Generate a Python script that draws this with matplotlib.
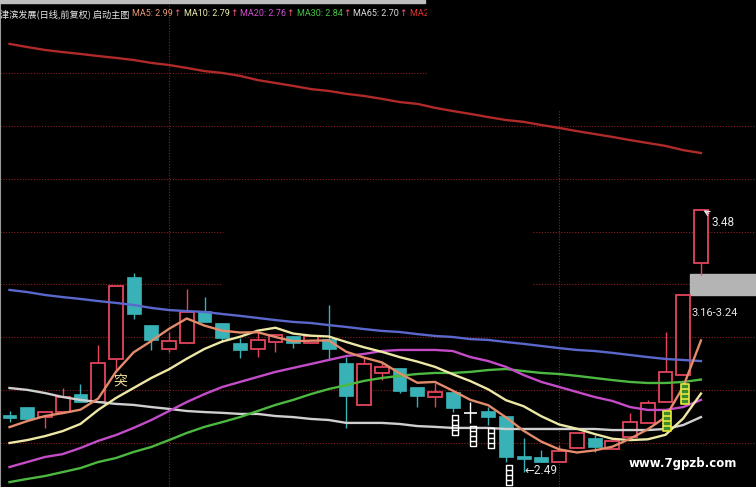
import matplotlib
matplotlib.use("Agg")
import matplotlib.pyplot as plt
from matplotlib.patches import Rectangle
from matplotlib.path import Path

# daily bars, oldest first
opens = [2.706, 2.736, 2.698, 2.717, 2.785, 2.755, 2.918, 3.228, 3.046, 2.956,
         2.978, 3.099, 3.054, 2.978, 2.956, 2.982, 3.005, 2.978, 2.993, 2.903,
         2.744, 2.865, 2.884, 2.812, 2.774, 2.793, 2.714, 2.721, 2.702, 2.551,
         2.547, 2.528, 2.581, 2.619, 2.577, 2.623, 2.676, 2.755, 2.857, 3.281]
highs = [2.720, 2.736, 2.720, 2.808, 2.823, 2.971, 3.194, 3.243, 3.046, 3.020,
         3.183, 3.152, 3.054, 2.997, 3.020, 3.009, 3.005, 3.005, 3.122, 2.925,
         2.925, 2.906, 2.884, 2.812, 2.827, 2.793, 2.755, 2.736, 2.702, 2.620,
         2.574, 2.592, 2.638, 2.630, 2.608, 2.714, 2.763, 3.020, 3.160, 3.480]
lows = [2.680, 2.691, 2.657, 2.717, 2.755, 2.755, 2.876, 3.069, 2.952, 2.944,
        2.978, 3.058, 2.982, 2.922, 2.925, 2.944, 2.960, 2.978, 2.914, 2.657,
        2.744, 2.838, 2.789, 2.736, 2.736, 2.717, 2.676, 2.668, 2.528, 2.490,
        2.528, 2.528, 2.581, 2.566, 2.577, 2.623, 2.676, 2.755, 2.857, 3.236]
closes = [2.695, 2.691, 2.717, 2.774, 2.755, 2.903, 3.194, 3.088, 2.990, 2.986,
          3.096, 3.058, 2.997, 2.952, 2.990, 3.009, 2.978, 3.005, 2.956, 2.778,
          2.899, 2.888, 2.797, 2.778, 2.793, 2.732, 2.714, 2.698, 2.547, 2.539,
          2.528, 2.570, 2.638, 2.585, 2.608, 2.679, 2.751, 2.869, 3.160, 3.480]

# moving averages
ma5 = [2.660, 2.683, 2.702, 2.713, 2.726, 2.768, 2.869, 2.943, 2.986, 3.032,
       3.071, 3.044, 3.025, 3.018, 3.019, 3.001, 2.985, 2.987, 2.988, 2.945,
       2.923, 2.905, 2.864, 2.828, 2.831, 2.798, 2.763, 2.743, 2.697, 2.646,
       2.605, 2.576, 2.564, 2.572, 2.586, 2.616, 2.652, 2.698, 2.813, 2.988]
ma10 = [2.600, 2.611, 2.626, 2.645, 2.672, 2.725, 2.770, 2.808, 2.846, 2.879,
        2.919, 2.956, 2.984, 3.002, 3.025, 3.036, 3.014, 3.006, 3.003, 2.982,
        2.962, 2.945, 2.925, 2.908, 2.888, 2.860, 2.834, 2.803, 2.762, 2.739,
        2.701, 2.670, 2.654, 2.634, 2.616, 2.611, 2.614, 2.631, 2.693, 2.787]
ma20 = [2.509, 2.528, 2.547, 2.558, 2.581, 2.608, 2.630, 2.657, 2.687, 2.721,
        2.755, 2.785, 2.812, 2.831, 2.850, 2.869, 2.884, 2.899, 2.914, 2.929,
        2.937, 2.948, 2.952, 2.952, 2.952, 2.948, 2.925, 2.910, 2.888, 2.857,
        2.831, 2.812, 2.793, 2.774, 2.759, 2.736, 2.725, 2.725, 2.736, 2.763]
ma30 = [2.452, 2.464, 2.475, 2.490, 2.505, 2.528, 2.543, 2.566, 2.585, 2.611,
        2.638, 2.661, 2.679, 2.698, 2.721, 2.744, 2.763, 2.785, 2.804, 2.819,
        2.835, 2.846, 2.854, 2.861, 2.865, 2.865, 2.869, 2.876, 2.880, 2.872,
        2.865, 2.861, 2.854, 2.846, 2.838, 2.831, 2.827, 2.827, 2.831, 2.840]
ma65 = [2.808, 2.801, 2.789, 2.774, 2.763, 2.755, 2.748, 2.744, 2.736, 2.729,
        2.721, 2.717, 2.714, 2.710, 2.710, 2.702, 2.698, 2.691, 2.687, 2.676,
        2.676, 2.676, 2.672, 2.664, 2.661, 2.657, 2.657, 2.657, 2.653, 2.653,
        2.653, 2.653, 2.653, 2.653, 2.649, 2.649, 2.649, 2.653, 2.668, 2.698]
ma120 = [3.179, 3.171, 3.160, 3.152, 3.145, 3.137, 3.130, 3.122, 3.111, 3.103,
         3.099, 3.096, 3.088, 3.081, 3.073, 3.065, 3.058, 3.054, 3.046, 3.039,
         3.031, 3.024, 3.020, 3.012, 3.005, 3.001, 2.993, 2.990, 2.982, 2.975,
         2.967, 2.959, 2.952, 2.948, 2.941, 2.933, 2.925, 2.918, 2.914, 2.910]
ma250 = [4.110, 4.098, 4.087, 4.079, 4.072, 4.064, 4.057, 4.049, 4.038, 4.030,
         4.019, 4.007, 4.000, 3.989, 3.973, 3.962, 3.951, 3.939, 3.932, 3.921,
         3.913, 3.902, 3.890, 3.883, 3.868, 3.856, 3.845, 3.833, 3.822, 3.815,
         3.803, 3.792, 3.780, 3.769, 3.758, 3.746, 3.735, 3.724, 3.708, 3.697]

title = "津滨发展(日线,前复权) 启动主图"
ma_labels = ["MA5: 2.99", "MA10: 2.79", "MA20: 2.76", "MA30: 2.84", "MA65: 2.70", "MA250: 3.70"]
grid_prices = [2.6, 2.8, 3.0, 3.2, 3.4, 3.6, 3.8, 4.0]
month_starts = [9, 31]
high_mark = 3.48
low_mark = 2.49
zone_low, zone_high = 3.16, 3.24
sell_marks = [25, 26, 27, 28]
buy_marks = [37, 38]
break_mark = 6

UP = "#e4445e"
DOWN = "#38b2b6"
GRID = "#8a2020"
CJK = ["Noto Sans CJK SC", "DejaVu Sans"]
NARROW = ["Roboto", "DejaVu Sans"]

fig = plt.figure(figsize=(7.56, 4.87), dpi=100, facecolor="black")
ax = fig.add_axes([0, 0, 1, 1], facecolor="black")
ax.set_xlim(-0.536, 42.104)
ax.set_ylim(2.4335, 4.276)
ax.set_xticks([])
ax.set_yticks([])
for side in ("top", "right", "bottom"):
    ax.spines[side].set_visible(False)
ax.spines["left"].set_color("#9a9a9a")
ax.spines["left"].set_linewidth(1.5)

# dotted price grid, some rows are broken
spans = {4.0: [(0, 0.5635)], 3.4: [(0, 0.295), (0.705, 1)], 3.2: [(0, 0.292), (0.705, 1)]}
for p in grid_prices:
    for a, b in spans.get(p, [(0, 1)]):
        ax.axhline(p, a, b, color=GRID, ls=(0, (1, 1.5)), lw=0.8, zorder=0)
ax.axvline(month_starts[0], color=GRID, ls=(0, (1, 1.5)), lw=0.8, zorder=0)
ax.axvline(month_starts[1], 0, 0.774, color=GRID, ls=(0, (1, 1.5)), lw=0.8, zorder=0)

# target zone on the right
ax.axhspan(zone_low, zone_high, xmin=690 / 756, xmax=1, color="#b4b4b4", zorder=1)

# candles
w = 0.78
for i, (o, h, l, c) in enumerate(zip(opens, highs, lows, closes)):
    if c > o:
        ax.vlines(i, c, h, color=UP, lw=1, zorder=2)
        ax.vlines(i, l, o, color=UP, lw=1, zorder=2)
        ax.add_patch(Rectangle((i - w / 2, o), w, c - o, facecolor="black",
                               edgecolor=UP, lw=1.3, zorder=3))
    elif c < o:
        ax.vlines(i, l, h, color=DOWN, lw=1, zorder=2)
        ax.add_patch(Rectangle((i - w / 2, c), w, o - c, facecolor=DOWN,
                               edgecolor=DOWN, lw=0.5, zorder=3))
    else:
        ax.vlines(i, l, h, color="white", lw=1, zorder=2)
        ax.hlines(o, i - w / 2, i + w / 2, color="white", lw=1.2, zorder=3)

# moving average lines
x = list(range(len(closes)))
lines = [(ma250, "#b02a2a"), (ma120, "#5a68cc"), (ma65, "#cfcfcf"), (ma30, "#4cb840"),
         (ma20, "#c44cc8"), (ma10, "#eee8a6"), (ma5, "#e28c6c")]
for vals, col in lines:
    ax.plot(x, vals, color=col, lw=1.7, zorder=4, solid_joinstyle="miter")


def ladder(width):
    half = width / 2
    verts = [(-half, -0.5), (half, -0.5), (half, 0.5), (-half, 0.5), (-half, -0.5)]
    codes = [Path.MOVETO, Path.LINETO, Path.LINETO, Path.LINETO, Path.CLOSEPOLY]
    for y in (-0.25, 0.0, 0.25):
        verts += [(-half, y), (half, y)]
        codes += [Path.MOVETO, Path.LINETO]
    return Path(verts, codes)


ax.plot([i + 0.15 for i in sell_marks], [lows[i] - 0.05 for i in sell_marks], ls="none",
        marker=ladder(0.3), ms=14.5, mec="white", mfc="none", mew=1.0, zorder=5)
ax.plot([i + 0.1 for i in buy_marks], [lows[i] - 0.07 for i in buy_marks], ls="none",
        marker=ladder(0.4), ms=14.5, mec="#e8e840", mfc="#3c8c28", mew=1.2, zorder=5)
ax.text(break_mark + 0.23, lows[break_mark] - 0.045, "突", family=CJK, fontsize=10,
        color="#f0e0a0", ha="center", va="center", zorder=5)

# price notes
ax.annotate(f"{high_mark:.2f}", xy=(39.15, high_mark), xytext=(39.6, high_mark - 0.045),
            color="#e6e6e6", fontsize=8.5, family=NARROW, va="center", ha="left",
            arrowprops=dict(arrowstyle="->", color="#e6e6e6", lw=0.9, shrinkA=0, shrinkB=0),
            zorder=6)
ax.text(29.05, low_mark + 0.006, f"←{low_mark:.2f}", color="#e6e6e6", fontsize=8.5,
        family=NARROW, va="center", ha="left", zorder=6)
ax.text(38.45, 3.092, f"{zone_low:.2f}-{zone_high:.2f}", color="#e6e6e6", fontsize=8,
        family=NARROW, va="center", ha="left", zorder=6)

# header strip: title, then each MA value followed by a small arrow
ax.add_patch(Rectangle((0, 1 - 3 / 487), 425 / 756, 3 / 487, transform=ax.transAxes,
                       color="#bdbdbd", zorder=6))
hy = 1 - 14 / 487
ax.text(0, hy, title, transform=ax.transAxes, family=CJK, fontsize=6.6,
        color="#e8e8e8", va="center", ha="left", zorder=6)
label_cols = ["#e89a78", "#f0eeb0", "#d050d0", "#44c444", "#dcdcdc", "#e03232"]
clip = Rectangle((0, 0), 427 / 756, 1, transform=ax.transAxes)
prev = None
for k, (txt, col) in enumerate(zip(ma_labels, label_cols)):
    if prev is None:
        t = ax.text(132 / 756, hy, txt, transform=ax.transAxes, family=NARROW,
                    fontsize=6.5, color=col, va="center", ha="left", zorder=6)
    else:
        t = ax.annotate(txt, xy=(1, 0.5), xycoords=prev, xytext=(2, 0),
                        textcoords="offset points", family=NARROW, fontsize=6.5,
                        color=col, va="center", ha="left", zorder=6)
    t.set_clip_path(clip)
    prev = t
    if k < len(ma_labels) - 1:
        prev = ax.annotate("↑", xy=(1, 0.5), xycoords=t, xytext=(0.3, 0),
                           textcoords="offset points", fontsize=6.5, color="#ff5a84",
                           va="center", ha="left", zorder=6)
        prev.set_clip_path(clip)

ax.text(683 / 756, 1 - 463 / 487, "www.7gpzb.com", transform=ax.transAxes, fontsize=8.5,
        fontweight="bold", color="white", ha="center", va="center", zorder=6)

fig.savefig("out.png", dpi=100, facecolor="black")
